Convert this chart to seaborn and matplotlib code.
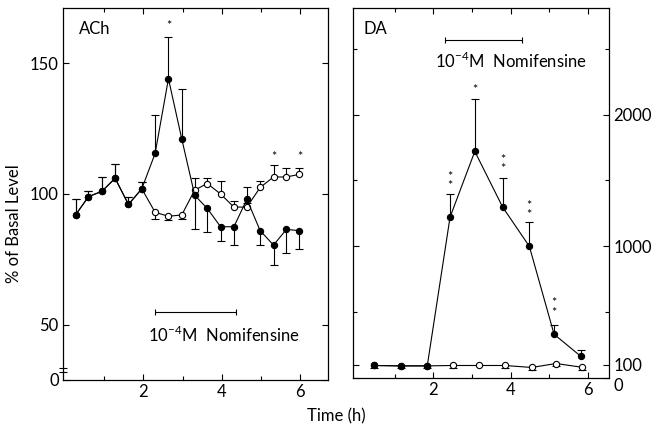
import numpy as np
import matplotlib
matplotlib.use("Agg")
import matplotlib.pyplot as plt
import seaborn as sns

# ACh (left panel), % of basal level
ach_time = [0.27, 0.6, 0.94, 1.28, 1.62, 1.96, 2.3, 2.64, 2.98, 3.31, 3.63, 3.97,
            4.31, 4.64, 4.98, 5.32, 5.65, 5.98]
ach_nomi = [92, 99, 101, 106, 96, 102, 115.5, 144, 121, 99.5, 94.5, 87.5,
            87.5, 98, 86, 80.5, 86.5, 86]
ach_nomi_up = [6, 2, 5.5, 5.5, 3, 2.5, 14.5, 16, 19, 0, 0, 0, 0, 4.5, 0, 0, 0, 0]
ach_nomi_down = [0, 0, 0, 0, 0, 0, 0, 0, 0, 13, 9, 5.5, 7, 0, 5.5, 7.5, 9, 7]
ach_ctrl = [92, 99, 101, 106, 96, 102, 93, 91.5, 92, 101.5, 104, 100,
            95, 95, 102.5, 106.5, 106.5, 107.5]
ach_ctrl_up = [6, 2, 5.5, 5.5, 3, 2.5, 0, 0, 0, 4.5, 2, 5, 2.5, 1.5, 2.5, 4.5, 3.5, 2.5]
ach_ctrl_down = [0, 0, 0, 0, 0, 0, 2.5, 1.5, 1.5, 0, 0, 0, 0, 0, 0, 0, 0, 0]
ach_star_x = [2.64, 5.32, 5.98]
ach_star_y = [164, 114, 114]
ach_star_txt = ["*", "*", "*"]

# DA (right panel), % of basal level
da_time = [0.47, 1.16, 1.84, 2.43, 3.07, 3.79, 4.48, 5.12, 5.81]
da_nomi = [95, 92, 92, 1222, 1721, 1298, 1000, 332, 165]
da_nomi_up = [0, 0, 0, 178, 400, 220, 185, 69, 51]
da_ctrl_time = [0.47, 1.16, 1.84, 2.51, 3.19, 3.85, 4.54, 5.17, 5.83]
da_ctrl = [95, 92, 92, 95, 95, 95, 80, 110, 82]
da_ctrl_down = [18, 18, 18, 18, 0, 18, 22, 18, 22]
da_star_x = [2.43, 3.07, 3.79, 4.48, 5.12]
da_star_y = [1493, 2190, 1622, 1272, 533]
da_star_txt = ["*\n*", "*", "*\n*", "*\n*", "*\n*"]

# nomifensine application period (h)
ach_drug = (2.3, 4.36)
da_drug = (2.3, 4.28)
drug_label = "10$^{-4}$M  Nomifensine"

sns.set_style("ticks")
plt.rcParams["font.family"] = ["Lato", "DejaVu Sans"]
plt.rcParams["mathtext.fontset"] = "custom"
plt.rcParams["mathtext.rm"] = "Lato"
for key in ("text.color", "axes.labelcolor", "xtick.color", "ytick.color", "axes.edgecolor"):
    plt.rcParams[key] = "black"
plt.rcParams["axes.linewidth"] = 0.9

LW = 0.8
FS = 12


def draw_err(ax, x, y, up, down):
    x, y, up, down = map(np.asarray, (x, y, up, down))
    for sign, e in ((1, up), (-1, down)):
        m = e > 0
        tip = y[m] + sign * e[m]
        ax.vlines(x[m], y[m], tip, color="k", lw=LW, zorder=2)
        ax.plot(x[m], tip, ls="none", marker="_", ms=6, mew=LW, color="k", zorder=2)


def draw_series(ax, x, y, filled):
    fc = "k" if filled else "white"
    sns.lineplot(x=x, y=y, ax=ax, color="k", lw=LW, marker="o", markersize=4.5,
                 markerfacecolor=fc, markeredgecolor="k", markeredgewidth=LW,
                 zorder=3, legend=False)


def style_ticks(ax):
    ax.tick_params(direction="in", length=4, width=0.8, labelsize=FS, pad=3,
                   top=True, right=True)
    ax.tick_params(which="minor", direction="in", length=3, width=0.8,
                   top=True, right=True)


fig = plt.figure(figsize=(6.59, 4.26), dpi=100)

# ---------------- ACh panel ----------------
ax1 = fig.add_axes([63 / 659, 46 / 426, 265 / 659, 372 / 426])


# broken axis: 0-50 squeezed
def fwd(v):
    v = np.asarray(v, dtype=float)
    return np.where(v < 50, 29 + v * 21 / 50, v)


def inv(v):
    v = np.asarray(v, dtype=float)
    return np.where(v < 50, (v - 29) * 50 / 21, v)


ax1.set_yscale("function", functions=(fwd, inv))
draw_err(ax1, ach_time, ach_nomi, ach_nomi_up, ach_nomi_down)
draw_err(ax1, ach_time, ach_ctrl, ach_ctrl_up, ach_ctrl_down)
draw_series(ax1, ach_time, ach_ctrl, filled=False)
draw_series(ax1, ach_time, ach_nomi, filled=True)
for sx, sy, st in zip(ach_star_x, ach_star_y, ach_star_txt):
    ax1.text(sx, sy, st, ha="center", va="center", fontsize=9)

ax1.set_xlim(-0.05, 6.71)
ax1.set_ylim(0, 171)
ax1.set_xticks([2, 4, 6])
ax1.set_xticks([1, 3, 5], minor=True)
ax1.set_yticks([0, 50, 100, 150])
ax1.yaxis.set_minor_locator(matplotlib.ticker.NullLocator())
style_ticks(ax1)
ax1.set_xlabel("")
ax1.set_ylabel("% of Basal Level", fontsize=FS)
ax1.yaxis.set_label_coords(-0.155, 0.42)
# axis break marks near 0
ax1.plot([0, 0], [7, 11], transform=ax1.get_yaxis_transform(), ls="none",
         marker="_", ms=6, mew=LW, color="k", clip_on=False)
ax1.text(0.06, 0.965, "ACh", transform=ax1.transAxes, ha="left", va="top", fontsize=FS)
ax1.plot(ach_drug, [55, 55], color="k", lw=LW, marker="|", ms=5, mew=LW)
ax1.text(2.12, 41, drug_label, ha="left", va="center", fontsize=FS)

# ---------------- DA panel ----------------
ax2 = fig.add_axes([353 / 659, 48 / 426, 256 / 659, 370 / 426])
draw_err(ax2, da_time, da_nomi, da_nomi_up, np.zeros(len(da_nomi)))
draw_err(ax2, da_ctrl_time, da_ctrl, np.zeros(len(da_ctrl)), da_ctrl_down)
draw_series(ax2, da_ctrl_time, da_ctrl, filled=False)
draw_series(ax2, da_time, da_nomi, filled=True)
for sx, sy, st in zip(da_star_x, da_star_y, da_star_txt):
    ax2.text(sx, sy, st, ha="center", va="center", fontsize=9, linespacing=0.75)

ax2.set_xlim(-0.08, 6.54)
ax2.set_ylim(0, 2810)
ax2.set_xticks([2, 4, 6])
ax2.set_xticks([1, 3, 5], minor=True)
ax2.set_yticks([0, 100, 1000, 2000])
ax2.set_yticks([500, 1500, 2500], minor=True)
style_ticks(ax2)
ax2.tick_params(axis="y", labelleft=False, labelright=True)
# keep "0" and "100" from running into each other
ax2.get_yticklabels()[0].set_va("top")
ax2.set_xlabel("")
ax2.set_ylabel("")
ax2.text(0.04, 0.965, "DA", transform=ax2.transAxes, ha="left", va="top", fontsize=FS)
ax2.plot(da_drug, [2564, 2564], color="k", lw=LW, marker="|", ms=5, mew=LW)
ax2.text(2.04, 2405, drug_label, ha="left", va="center", fontsize=FS)

fig.text(336 / 659, 1 - 416 / 426, "Time (h)", ha="center", va="center", fontsize=FS)

fig.savefig("out.png", dpi=100)
